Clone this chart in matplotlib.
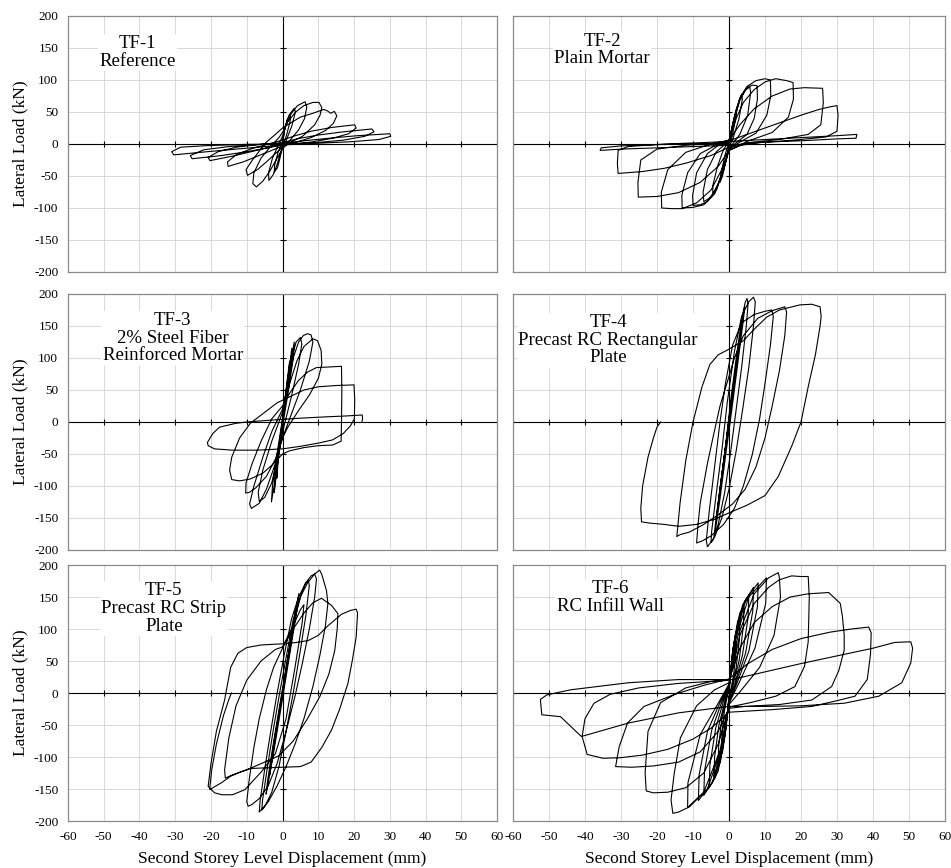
import matplotlib
matplotlib.use("Agg")
import matplotlib.pyplot as plt

plt.rcParams["font.family"] = "Liberation Serif"
plt.rcParams["axes.unicode_minus"] = False

# === 1. Hysteresis loops: (displacement mm, load kN) ===
tf1 = [
    (0, 0), (0.6, 22), (1.3, 38), (2.2, 45), (2.1, 35), (1.2, 15), (0, -5), (-0.7, -22), (-1.4, -37), (-2.3, -44), (-2.2, -33), (-1.3, -14), (0, 4),
    (0.8, 28), (1.8, 45), (3.3, 56), (3.6, 50), (2.6, 28), (1, 5), (-0.5, -12), (-1.5, -32), (-2.6, -48), (-3.8, -57), (-3.9, -45), (-2.8, -22), (-1.2, -2), (0, 12),
    (1, 30), (2.5, 48), (4.2, 60), (6.3, 66), (6.8, 58), (6.2, 40), (4.5, 22), (2, 5), (0, -8), (-1.5, -22), (-3.5, -42), (-5.5, -58), (-7.3, -67), (-8.3, -62), (-8, -45), (-6, -22), (-3.5, -5), (-1, 10), (0, 18),
    (1.5, 35), (3.7, 50), (6, 60), (8.5, 65), (10.2, 65), (11, 57), (10.5, 45), (9, 30), (5.6, 12), (2, 2), (0, -5), (-2, -15), (-4.5, -28), (-7, -40), (-9.8, -49), (-10.2, -40), (-8.4, -25), (-4.7, 2), (-2, 15), (0, 25),
    (2, 32), (5, 42), (8.5, 48), (11.5, 54), (12.5, 52), (13.5, 48), (14.5, 51), (15.2, 44), (14.2, 32), (12, 21), (8, 10), (4, 3), (0, -3), (-3, -10), (-7, -19), (-11, -28), (-15.2, -35), (-15.4, -28), (-13, -17), (-9, -8), (-4, 0), (0, 6),
    (3, 12), (8, 20), (14, 26), (20.2, 30), (20.6, 25), (18.5, 16), (14, 9), (8, 3), (2, 0), (-3, -4), (-8, -11), (-14, -19), (-20.3, -26), (-20.8, -21), (-18, -12), (-13, -5), (-7, -1), (0, 2),
    (4, 8), (10, 14), (17, 19), (25, 23.5), (25.6, 19), (23, 12), (17, 6), (9, 2), (0, -1), (-4, -6), (-10, -12), (-17, -18), (-25.3, -23), (-25.8, -18), (-22, -9), (-15, -4), (-7, -1), (0, 1),
    (6, 5), (13, 9), (21, 13), (30, 16), (30.3, 12), (27, 7), (19, 3.5), (9, 1), (0, -1.5), (-6, -4.5), (-13, -8), (-21, -12), (-30.4, -17), (-31, -12), (-28.5, -5), (-21, -2.5), (-10, -0.5), (0, 0),
]

tf2 = [
    (0, 0), (0.8, 25), (1.6, 45), (2.2, 58), (2, 45), (1, 15), (0, -3), (-0.8, -25), (-1.8, -50), (-2.5, -60), (-2.2, -45), (-1, -15), (0, 2),
    (1.2, 35), (2.5, 62), (3.5, 78), (3.7, 70), (2.8, 40), (1.2, 10), (0, -5), (-1.3, -35), (-3, -62), (-4.5, -78), (-4.5, -65), (-3.2, -35), (-1.5, -8), (0, 3),
    (1.5, 40), (3, 68), (4.5, 84), (5.8, 89), (6, 80), (5.2, 45), (3, 15), (1, 0), (0, -8), (-1.5, -40), (-3.5, -70), (-5.5, -85), (-7, -90), (-7.2, -75), (-6, -40), (-3.5, -12), (-1, 0), (0, 4),
    (1.5, 40), (3, 70), (5, 88), (6.5, 92), (7.8, 91), (7.9, 70), (7, 40), (5, 15), (2, 2), (0, -8), (-1.5, -40), (-3.5, -72), (-6, -90), (-8, -95), (-10, -96), (-10.1, -80), (-9, -45), (-6, -15), (-2.5, 0), (0, 5),
    (1.5, 42), (3, 72), (5, 90), (7.5, 99), (10, 102), (11.5, 100), (11.6, 75), (10.5, 45), (7.5, 17), (3, 3), (0, -8), (-1.5, -40), (-4, -78), (-7, -95), (-10, -99), (-13, -100), (-13.1, -80), (-11.5, -45), (-8, -15), (-3, 0), (0, 6),
    (2, 40), (4, 65), (7, 85), (10, 97), (13, 102), (16, 99), (17.8, 96), (17.9, 70), (16.5, 42), (12, 18), (5, 4), (0, -10), (-2, -40), (-5, -72), (-9, -92), (-13, -101), (-16, -101), (-18.7, -100), (-18.8, -75), (-17, -40), (-12, -13), (-5, 0), (0, 6),
    (3, 30), (7, 55), (12, 75), (17, 86), (21, 88), (26, 87), (26.2, 65), (25.5, 30), (22, 15), (14, 7), (5, 2), (0, -10), (-3, -35), (-8, -60), (-14, -76), (-20, -82), (-25.2, -83), (-25.3, -60), (-24.5, -25), (-20, -8), (-12, -2), (-4, 1), (0, 5),
    (5, 15), (10, 25), (15, 35), (20, 45), (25, 54), (28, 58), (30, 60), (30.3, 45), (30, 20), (27, 11), (18, 6), (8, 2), (0, -5), (-5, -18), (-12, -30), (-18, -38), (-24, -43), (-30.8, -46), (-31, -30), (-30.8, -10), (-28, -4), (-18, 0), (-8, 2), (0, 4),
    (10, 7), (20, 10), (30, 13), (35.5, 15), (35.3, 9), (30, 8), (20, 5), (10, 3), (0, -2), (-10, -4), (-20, -6), (-30, -8), (-35.8, -10), (-35.5, -6), (-30, -3), (-20, -1), (-10, 0), (0, 1),
]

tf3 = [
    (0, 0), (0.6, 30), (1.3, 65), (2, 95), (1.8, 75), (0.9, 35), (0, 0), (-0.6, -30), (-1.2, -60), (-1.6, -88), (-1.4, -65), (-0.6, -25), (0, 0),
    (0.8, 40), (1.8, 80), (2.6, 115), (2.4, 90), (1.3, 45), (0, 2), (-0.8, -40), (-1.7, -80), (-2.3, -110), (-2, -80), (-0.9, -35), (0, 3),
    (1, 48), (2.2, 95), (3.3, 125), (3, 100), (1.7, 50), (0.2, 0), (-1, -45), (-2.2, -95), (-3.1, -125), (-2.8, -100), (-1.4, -45), (0, 5),
    (1.2, 50), (2.6, 100), (3.8, 125), (5, 132), (5.4, 122), (4.5, 90), (2.5, 40), (0.5, -5), (-1.2, -50), (-3, -95), (-5, -118), (-6.5, -124), (-6.8, -110), (-5.5, -75), (-3, -30), (0, 15),
    (1.5, 60), (3, 100), (4.5, 125), (5.8, 135), (7, 138), (8, 136), (8.5, 125), (7.5, 95), (5, 50), (2, 5), (0, -25), (-2, -65), (-4.5, -105), (-6.5, -127), (-8.7, -135), (-9.2, -128), (-8, -100), (-5.5, -55), (-3, -15), (0, 20),
    (2, 60), (4, 95), (6, 118), (8.5, 130), (9.8, 127), (10.8, 112), (11, 90), (10, 68), (7.5, 42), (4.5, 18), (1.5, -8), (0, -25), (-2, -58), (-4.5, -85), (-7.5, -103), (-9.3, -110), (-10.3, -111), (-10.2, -95), (-8.5, -65), (-6, -30), (-3, 5), (0, 25),
    (2, 45), (4.5, 65), (7, 78), (9.5, 85), (13, 86), (16.5, 87), (16.6, 50), (16.5, 0), (16.4, -30), (14, -36), (10, -37), (6, -40), (2, -45), (0, -50), (-2.5, -65), (-5.5, -80), (-9, -89), (-12, -92), (-14.2, -90), (-14.8, -75), (-14.2, -55), (-12, -25), (-9, -2), (-5, 15), (-1.5, 30), (0, 34),
    (3, 42), (6, 50), (10, 55), (15, 57), (20, 58), (20.2, 35), (20.1, 5), (19, -6), (17, -18), (14, -28), (10, -33), (5, -38), (0, -42), (-7, -44), (-14, -44), (-19, -42), (-20.8, -37), (-21, -32), (-19.5, -18), (-17.6, -8), (-13, -2), (-10, 0), (-3, 3), (5, 6), (12, 8), (18, 9.5), (22.3, 11), (22.4, 5), (22.2, 0),
]

tf4 = [
    (0, 0), (0.8, 35), (1.6, 70), (2, 88), (1.7, 72), (0.8, 35), (0, 0), (-0.8, -35), (-1.6, -70), (-2, -88), (-1.7, -72), (-0.8, -35), (0, 0),
    (1, 45), (2, 90), (2.8, 125), (2.5, 110), (1.2, 55), (0, 5), (-1, -40), (-2, -85), (-2.8, -122), (-2.5, -108), (-1.2, -52), (0, -5),
    (1.2, 50), (2.5, 105), (3.5, 150), (3.2, 135), (1.8, 75), (0.3, 10), (-1.2, -50), (-2.5, -105), (-3.4, -148), (-3.1, -132), (-1.8, -75), (-0.3, -10),
    (1, 45), (2.5, 110), (4, 170), (4.4, 180), (4, 160), (2.5, 95), (0.8, 20), (-1, -55), (-2.5, -120), (-3.8, -170), (-4.1, -178), (-3.7, -155), (-2.3, -95), (-0.8, -30),
    (0.5, 35), (2, 100), (3.5, 160), (4.5, 187), (5, 193), (5.3, 185), (4.8, 150), (3.5, 85), (2, 20), (0.5, -45), (-1.2, -110), (-3, -160), (-4.5, -185), (-5, -188), (-4.8, -170), (-3.6, -115), (-2, -45),
    (-0.5, 30), (1.5, 110), (3.5, 165), (5.5, 188), (6.8, 195), (7.3, 188), (6.8, 150), (5.5, 85), (3.8, 20), (2, -45), (0, -105), (-2, -150), (-4, -180), (-6, -195), (-6.3, -185), (-5.5, -140), (-4, -70), (-2.5, 0),
    (-1, 60), (1, 120), (3.5, 155), (7, 168), (10, 173), (11.9, 175), (12.3, 165), (11.5, 120), (10, 60), (8.5, 5), (6.5, -50), (4, -100), (1.5, -135), (-1.5, -160), (-5, -178), (-7.5, -186), (-9, -189), (-8.6, -160), (-8, -127), (-6, -65), (-4.4, -23), (-2.5, 25), (-0.6, 60), (1.5, 100), (4, 135), (8, 162), (12, 174), (15.5, 180),
    (16, 172), (15.5, 135), (14, 80), (12, 25), (10, -25), (7.5, -70), (4.5, -105), (1, -128), (-3, -145), (-7, -160), (-11, -172), (-13.6, -176), (-14.5, -179), (-14, -150), (-13.6, -127), (-12, -60), (-10, 0), (-7.5, 55), (-5.3, 90), (-3, 105), (-0.6, 112), (4, 127), (7, 145), (10.5, 164), (14, 175), (19.7, 183), (23, 184), (25.3, 180), (25.6, 165), (25.3, 150), (24, 105), (22, 55), (20, 0), (17.4, -38), (13.7, -85), (10, -115), (5, -130), (0, -142), (-4, -152), (-9, -160), (-14, -163), (-18, -160), (-22, -158), (-24.3, -156), (-24.5, -135), (-24, -100), (-22.5, -55), (-21, -25), (-20, -8), (-19, 0),
]

tf5 = [
    (0, 0), (1, 35), (2, 70), (2.6, 90), (2.3, 75), (1.2, 40), (0, 0), (-1, -35), (-2, -70), (-2.6, -90), (-2.3, -75), (-1.2, -40), (0, 0),
    (1.3, 45), (2.7, 95), (3.6, 128), (3.3, 110), (1.8, 60), (0.3, 8), (-1.2, -42), (-2.6, -92), (-3.6, -128), (-3.3, -110), (-1.8, -58), (-0.3, -8),
    (1.2, 45), (3, 105), (4.3, 148), (4.6, 155), (4.2, 135), (2.6, 80), (0.8, 18), (-1.2, -50), (-3, -110), (-4.3, -150), (-4.6, -158), (-4.2, -138), (-2.6, -80), (-0.8, -20),
    (1, 40), (3, 105), (5, 150), (6.3, 170), (7.2, 176), (7.5, 168), (6.5, 120), (4.8, 60), (3, 0), (1, -60), (-1, -115), (-3, -155), (-5, -178), (-5.8, -183), (-5.6, -168), (-4.2, -115), (-2.5, -55), (-0.8, 0),
    (1, 55), (3, 115), (5, 150), (7, 172), (9, 186), (10.4, 192), (11, 185), (12.3, 160), (12.7, 140), (12, 105), (10.5, 60), (8.5, 10), (6, -40), (3.5, -80), (1, -115), (-1.5, -145), (-4, -170), (-6, -183), (-6.5, -186), (-6.3, -170), (-5, -120), (-3.3, -60), (-1.5, 0),
    (0.5, 60), (2.5, 115), (4.5, 150), (6.5, 172), (8, 183), (9, 186), (9.5, 178), (9, 150), (7.5, 100), (5.5, 45), (3.5, -5), (1, -60), (-1.5, -110), (-4, -145), (-6.5, -165), (-8.5, -174), (-9.6, -177), (-10, -170), (-9.3, -135), (-8, -85), (-6.5, -40), (-4.5, 5), (-2.5, 40), (0, 70),
    (3, 100), (6, 125), (8.5, 141), (10.9, 148), (13.7, 137), (15.5, 124), (15.3, 100), (14.6, 66), (13, 30), (10.5, -5), (7, -40), (3, -75), (-1, -98), (-5, -108), (-10, -120), (-14, -128), (-16, -133), (-16.2, -120), (-15, -70), (-13, -20), (-10, 20), (-6, 50), (-2, 68), (0, 72),
    (3, 105), (5, 130), (6, 138), (5.5, 110), (3.5, 40), (1, -40), (-2, -95), (-5.9, -123), (-10.5, -151), (-14, -159), (-17, -159), (-19, -156), (-20.8, -146), (-20, -110), (-18.5, -60), (-16.2, -11), (-14.5, 40), (-12.5, 62), (-10, 71), (-6, 75), (-3, 76), (0.7, 77), (4, 79), (7.2, 82), (10, 90), (12.7, 105), (16.5, 123), (19, 129), (20.6, 131),
    (21, 125), (20.6, 87), (19.5, 50), (18.3, 15), (16, -25), (13.7, -58), (11, -85), (8, -108), (5, -115), (0, -116), (-5, -117), (-9, -118), (-12, -124), (-14.5, -130), (-17, -140), (-20.4, -151), (-19.8, -120), (-18.5, -80), (-16.5, -35), (-15, -10), (-14.3, 0),
]

tf6 = [
    (0, 0), (0.6, 40), (1.3, 68), (2, 80), (1.9, 60), (1.2, 25), (0.4, 3), (0, -5), (-0.6, -40), (-1.3, -68), (-2, -80), (-1.9, -60), (-1.2, -25), (-0.4, -3), (0, 4),
    (0.8, 55), (1.8, 92), (3, 110), (2.9, 85), (2, 40), (0.8, 8), (0, -6), (-0.8, -55), (-1.8, -92), (-3, -110), (-2.9, -85), (-2, -40), (-0.8, -8), (0, 5),
    (1, 65), (2.4, 112), (4.2, 135), (4, 105), (2.8, 50), (1, 10), (0, -8), (-1, -60), (-2.4, -108), (-4.2, -130), (-4, -100), (-2.8, -50), (-1, -10), (0, 6),
    (1.2, 72), (3, 125), (5.5, 152), (5.3, 118), (3.7, 58), (1.5, 12), (0, -10), (-1.2, -68), (-3, -122), (-5.5, -148), (-5.3, -112), (-3.7, -55), (-1.5, -12), (0, 8),
    (1.5, 80), (3.8, 138), (6.8, 165), (6.6, 128), (4.6, 62), (1.8, 14), (0, -12), (-1.5, -75), (-3.8, -132), (-7, -160), (-6.8, -122), (-4.8, -58), (-2, -14), (0, 10),
    (1.8, 85), (4.5, 145), (8.1, 172), (7.9, 135), (5.5, 65), (2.2, 15), (0, -14), (-1.8, -80), (-4.6, -140), (-8.5, -168), (-8.3, -128), (-6, -60), (-2.5, -15), (0, 12),
    (2, 88), (5.5, 150), (10.4, 180), (10.2, 140), (7.2, 70), (2.8, 16), (0, -16), (-2, -85), (-6, -150), (-11.5, -179), (-11.4, -140), (-8, -65), (-3, -16), (0, 14),
    (2.5, 90), (7, 155), (11, 180), (13.7, 188), (14, 180), (14.3, 150), (12.5, 90), (8.5, 40), (3.5, 5), (0, -18), (-2.5, -90), (-7, -155), (-11, -178), (-14, -186), (-15.6, -188), (-16.1, -167), (-15.2, -125), (-13.5, -70), (-9, -20), (-4, 5), (0, 16),
    (3, 90), (7, 140), (11, 165), (14, 177), (17.4, 183), (20, 182), (22, 182), (22.3, 150), (22, 80), (21, 42), (18.3, 10), (13, -5), (6, -15), (0, -22), (-3, -80), (-7, -125), (-12, -148), (-17, -155), (-21, -156), (-23, -153), (-23.3, -125), (-22.5, -60), (-19, -15), (-12, 8), (-5, 18), (0, 20),
    (3, 70), (7, 110), (12, 135), (17, 150), (22, 155), (27.7, 157), (30.9, 140), (31.5, 120), (32, 90), (32, 67), (30.5, 35), (28.5, 10), (23, -11), (14, -18), (4.4, -21), (0, -24), (-3, -60), (-8, -92), (-14, -108), (-21, -114), (-27, -116), (-31.5, -115), (-30.5, -84), (-28.2, -47), (-23.6, -21), (-15, -2), (-7, 12), (0, 22),
    (5, 45), (12, 68), (20, 85), (28, 95), (34, 100), (38.8, 103), (39.5, 94), (39.3, 60), (38.4, 21), (35, -5), (30, -12), (23, -21), (12, -26), (0, -30), (-5, -55), (-10, -72), (-17, -88), (-24, -97), (-30, -101), (-35, -102), (-39.4, -96), (-40.8, -68), (-40, -40), (-37.5, -16), (-33, -2), (-25, 8), (-14, 15), (0, 20),
    (10, 33), (20, 46), (30, 58), (40, 70), (46, 79), (50.5, 80), (51, 70), (50.5, 47), (48, 16), (41.6, -5), (32, -16), (20, -20), (10, -21), (0, -21), (-14, -31), (-28, -47), (-41, -68), (-46.8, -37), (-52, -34), (-52.4, -10), (-50.6, -3), (-44, 5), (-28, 16), (-14, 21), (0, 21),
]

titles = ["TF-1\nReference", "TF-2\nPlain Mortar", "TF-3\n2% Steel Fiber\nReinforced Mortar",
          "TF-4\nPrecast RC Rectangular\nPlate", "TF-5\nPrecast RC Strip\nPlate", "TF-6\nRC Infill Wall"]
x_ticks = list(range(-60, 61, 10))
y_ticks = list(range(-200, 201, 50))

# === 2. Layout: 3 rows x 2 columns placed to match the source figure ===
fig = plt.figure(figsize=(9.51, 8.68), dpi=100)
col_left = [68 / 951, 513 / 951]
col_width = [429 / 951, 432 / 951]
row_top = [16, 294, 565]
panel_h = 256 / 868
title_pos = [(-40.5, 143), (-35.3, 147), (-30.7, 131), (-33.6, 128), (-33.2, 132), (-33, 149)]

data = [tf1, tf2, tf3, tf4, tf5, tf6]

for k, loops in enumerate(data):
    r, c = divmod(k, 2)
    ax = fig.add_axes([col_left[c], 1 - (row_top[r] + 256) / 868, col_width[c], panel_h])
    ax.set_xlim(-60, 60)
    ax.set_ylim(-200, 200)
    ax.set_xticks(x_ticks)
    ax.set_yticks(y_ticks)
    ax.grid(True, color="#d2d2d2", linewidth=0.6)
    ax.set_axisbelow(True)
    ax.tick_params(length=0, labelsize=9.5, pad=7)
    for sp in ax.spines.values():
        sp.set_color("#8a8a8a")
        sp.set_linewidth(0.9)

    # zero axes with their small tick marks (Excel style)
    ax.axhline(0, color="black", linewidth=0.8, zorder=2)
    ax.axvline(0, color="black", linewidth=0.8, zorder=2)
    ax.plot(x_ticks, [0] * len(x_ticks), ls="none", marker="|", ms=4, mew=0.8, color="black", zorder=2)
    ax.plot([0] * len(y_ticks), y_ticks, ls="none", marker="_", ms=4, mew=0.8, color="black", zorder=2)

    xs = [p[0] for p in loops]
    ys = [p[1] for p in loops]
    ax.plot(xs, ys, color="black", linewidth=0.8, solid_joinstyle="round", zorder=3)

    tx, ty = title_pos[k]
    ax.text(tx, ty, titles[k], ha="center", va="center", fontsize=13.5, linespacing=1.05,
            bbox=dict(facecolor="white", edgecolor="none", pad=1), zorder=4)

    if c == 0:
        ax.set_ylabel("Lateral Load (kN)", fontsize=12.5, labelpad=4)
    else:
        ax.tick_params(labelleft=False)
    if r == 2:
        ax.set_xlabel("Second Storey Level Displacement (mm)", fontsize=12.5, labelpad=6)
    else:
        ax.tick_params(labelbottom=False)

fig.savefig("out.png", dpi=100)
